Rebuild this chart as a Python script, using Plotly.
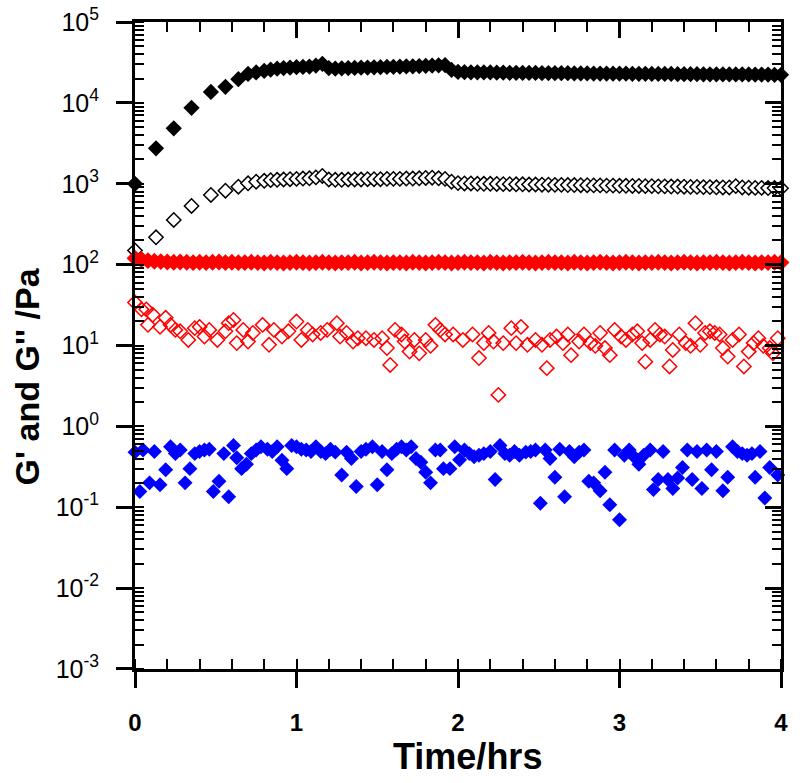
import plotly.graph_objects as go

# ---------------- data ----------------
# black series (G' filled, G'' open)
t_black = [0, 0.13, 0.24, 0.35, 0.47, 0.56, 0.64, 0.70, 0.75,
           0.80, 0.84, 0.88, 0.92, 0.96, 1.00, 1.04, 1.08, 1.12, 1.16, 1.20, 1.24, 1.28, 1.32, 1.36,
           1.40, 1.44, 1.48, 1.52, 1.56, 1.60, 1.64, 1.68, 1.72, 1.76, 1.80, 1.84, 1.88, 1.92, 1.96,
           2.00, 2.04, 2.08, 2.12, 2.16, 2.20, 2.24, 2.28, 2.32, 2.36, 2.40, 2.44, 2.48, 2.52, 2.56,
           2.60, 2.64, 2.68, 2.72, 2.76, 2.80, 2.84, 2.88, 2.92, 2.96, 3.00, 3.04, 3.08, 3.12, 3.16,
           3.20, 3.24, 3.28, 3.32, 3.36, 3.40, 3.44, 3.48, 3.52, 3.56, 3.60, 3.64, 3.68, 3.72, 3.76,
           3.80, 3.84, 3.88, 3.92, 3.96, 4.00]
gp_black = [1000, 2750, 4850, 8700, 13700, 15800, 19700, 22800, 23800,
            25000, 25800, 26500, 27000, 27400, 27700, 27900, 28200, 29000, 30500, 27000, 26600, 26800, 27000, 27100,
            27300, 27400, 27600, 27700, 27900, 28000, 28100, 28300, 28400, 28600, 28800, 29000, 29200, 29400, 25600,
            24200, 24000, 23900, 23900, 23800, 23800, 23700, 23700, 23600, 23600, 23500, 23500, 23500, 23400, 23400,
            23300, 23300, 23300, 23200, 23200, 23200, 23100, 23100, 23100, 23000, 23000, 23000, 22900, 22900, 22900,
            22800, 22800, 22800, 22800, 22700, 22700, 22700, 22700, 22600, 22600, 22600, 22600, 22500, 22500, 22500,
            22500, 22400, 22400, 22400, 22300, 22300]
gpp_black = [150, 218, 357, 532, 728, 822, 920, 1014, 1060,
             1090, 1110, 1120, 1130, 1140, 1150, 1160, 1170, 1200, 1250, 1130, 1120, 1120, 1130, 1130,
             1130, 1140, 1140, 1140, 1150, 1150, 1150, 1160, 1160, 1170, 1180, 1190, 1170, 1150, 1060,
             1020, 1010, 1010, 1000, 1000, 1000, 995, 990, 990, 985, 985, 980, 980, 975, 975,
             970, 970, 965, 965, 960, 960, 955, 955, 950, 950, 945, 945, 940, 940, 935,
             935, 930, 930, 925, 925, 920, 915, 915, 910, 910, 905, 900, 900, 935, 900,
             895, 890, 890, 885, 885, 880]

# red filled series
t_red = [0.00, 0.04, 0.08, 0.12, 0.16, 0.20, 0.24, 0.28, 0.32, 0.36, 0.40, 0.44, 0.48, 0.52, 0.56,
         0.60, 0.64, 0.68, 0.72, 0.76, 0.80, 0.84, 0.88, 0.92, 0.96, 1.00, 1.04, 1.08, 1.12, 1.16,
         1.20, 1.24, 1.28, 1.32, 1.36, 1.40, 1.44, 1.48, 1.52, 1.56, 1.60, 1.64, 1.68, 1.72, 1.76,
         1.80, 1.84, 1.88, 1.92, 1.96, 2.00, 2.04, 2.08, 2.12, 2.16, 2.20, 2.24, 2.28, 2.32, 2.36,
         2.40, 2.44, 2.48, 2.52, 2.56, 2.60, 2.64, 2.68, 2.72, 2.76, 2.80, 2.84, 2.88, 2.92, 2.96,
         3.00, 3.04, 3.08, 3.12, 3.16, 3.20, 3.24, 3.28, 3.32, 3.36, 3.40, 3.44, 3.48, 3.52, 3.56,
         3.60, 3.64, 3.68, 3.72, 3.76, 3.80, 3.84, 3.88, 3.92, 3.96, 4.00]
gp_red = [120, 116, 112, 110, 109, 108, 107, 108, 107, 106, 107, 106, 107, 108, 106,
          107, 106, 106, 107, 106, 105, 107, 106, 105, 106, 107, 106, 105, 106, 107,
          106, 105, 106, 106, 107, 105, 106, 107, 106, 105, 106, 106, 105, 107, 106,
          105, 106, 107, 106, 105, 106, 107, 106, 106, 105, 107, 106, 105, 106, 106,
          107, 106, 105, 106, 107, 106, 106, 105, 107, 106, 105, 106, 107, 106, 105,
          106, 107, 106, 105, 106, 106, 107, 106, 105, 106, 107, 106, 105, 106, 106,
          107, 106, 105, 106, 107, 106, 105, 106, 106, 107, 106]

# red open series
t_red_open = [0.0, 0.04, 0.07, 0.08, 0.11, 0.155, 0.19, 0.22, 0.25, 0.28,
              0.33, 0.37, 0.40, 0.43, 0.46, 0.51, 0.56, 0.58, 0.61, 0.63,
              0.67, 0.70, 0.73, 0.79, 0.83, 0.86, 0.91, 0.95, 1.0, 1.03,
              1.07, 1.10, 1.15, 1.19, 1.25, 1.27, 1.31, 1.35, 1.38, 1.43,
              1.48, 1.53, 1.56, 1.58, 1.61, 1.65, 1.67, 1.70, 1.73, 1.76,
              1.80, 1.83, 1.86, 1.89, 1.92, 1.97, 2.03, 2.09, 2.13, 2.16,
              2.19, 2.22, 2.25, 2.28, 2.33, 2.36, 2.39, 2.43, 2.48, 2.52,
              2.55, 2.57, 2.61, 2.65, 2.68, 2.70, 2.75, 2.78, 2.82, 2.85,
              2.88, 2.91, 2.94, 2.97, 3.01, 3.04, 3.08, 3.11, 3.14, 3.16,
              3.19, 3.22, 3.25, 3.28, 3.31, 3.33, 3.37, 3.41, 3.44, 3.47,
              3.50, 3.53, 3.56, 3.59, 3.62, 3.64, 3.67, 3.70, 3.74, 3.77,
              3.80, 3.83, 3.86, 3.89, 3.93, 3.95, 3.98]
gpp_red = [34, 28, 28, 18, 24, 17, 22, 18, 15.6, 15,
           11.7, 16.4, 17, 12.9, 15.6, 11.7, 15, 18.9, 20.7, 10.7,
           15.6, 11.2, 14.3, 18, 10.2, 15.6, 12.9, 15, 19.8, 11.7,
           15.6, 13.7, 14.3, 15.6, 18.9, 12.9, 14.3, 11.2, 12.3, 12.3,
           11.7, 12.3, 9.3, 5.75, 15.6, 13.7, 11.2, 8.4, 11.7, 8.0,
           11.7, 9.9, 18, 15.6, 13.7, 13.7, 11.7, 13.7, 7.0, 10.7,
           14.3, 11.2, 2.45, 10.7, 16.4, 10.7, 17, 10.2, 11.7, 10.2,
           5.25, 11.7, 12.9, 10.7, 13.7, 7.6, 11.2, 13.7, 10.7, 9.9,
           14.3, 9.3, 7.6, 15.6, 12.9, 11.7, 13.7, 15, 10.7, 6.3,
           11.7, 15.6, 13.7, 12.9, 5.5, 8.8, 13.7, 10.7, 9.9, 18.9,
           10.2, 14.3, 15, 14.3, 13.7, 9.3, 7.3, 11.7, 13.7, 5.5,
           8.4, 10.7, 12.3, 9.9, 9.3, 8.0, 12.3]

# blue filled series
t_blue = [0, 0.03, 0.05, 0.09, 0.12, 0.155, 0.19, 0.22, 0.25, 0.28,
          0.31, 0.34, 0.37, 0.40, 0.43, 0.46, 0.485, 0.52, 0.55, 0.58,
          0.61, 0.63, 0.66, 0.69, 0.72, 0.75, 0.78, 0.82, 0.85, 0.88,
          0.91, 0.94, 0.97, 1.0, 1.03, 1.06, 1.09, 1.12, 1.15, 1.18,
          1.21, 1.24, 1.28, 1.31, 1.34, 1.37, 1.40, 1.43, 1.47, 1.50,
          1.53, 1.56, 1.59, 1.62, 1.65, 1.68, 1.71, 1.74, 1.77, 1.80,
          1.83, 1.86, 1.89, 1.91, 1.95, 1.98, 2.01, 2.04, 2.07, 2.10,
          2.13, 2.16, 2.20, 2.23, 2.26, 2.29, 2.32, 2.35, 2.38, 2.42,
          2.45, 2.48, 2.51, 2.54, 2.57, 2.60, 2.63, 2.66, 2.69, 2.72,
          2.75, 2.78, 2.81, 2.84, 2.88, 2.91, 2.94, 2.97, 3.00, 3.03,
          3.06, 3.09, 3.12, 3.15, 3.19, 3.21, 3.24, 3.27, 3.30, 3.33,
          3.36, 3.39, 3.42, 3.45, 3.48, 3.51, 3.54, 3.57, 3.60, 3.64,
          3.67, 3.70, 3.73, 3.76, 3.79, 3.82, 3.84, 3.87, 3.90, 3.93,
          3.98]
g_blue = [0.48, 0.156, 0.51, 0.2, 0.49, 0.19, 0.29, 0.56, 0.46, 0.51,
          0.2, 0.30, 0.46, 0.49, 0.51, 0.52, 0.156, 0.21, 0.46, 0.135,
          0.58, 0.41, 0.30, 0.34, 0.46, 0.51, 0.56, 0.52, 0.49, 0.56,
          0.38, 0.30, 0.58, 0.56, 0.52, 0.51, 0.49, 0.56, 0.49, 0.46,
          0.52, 0.48, 0.25, 0.48, 0.40, 0.18, 0.49, 0.52, 0.56, 0.19,
          0.49, 0.29, 0.46, 0.52, 0.56, 0.51, 0.56, 0.40, 0.36, 0.27,
          0.2, 0.51, 0.51, 0.30, 0.30, 0.56, 0.385, 0.51, 0.46, 0.42,
          0.44, 0.46, 0.49, 0.22, 0.58, 0.46, 0.44, 0.49, 0.44, 0.48,
          0.49, 0.51, 0.112, 0.51, 0.40, 0.235, 0.52, 0.135, 0.49, 0.42,
          0.48, 0.51, 0.21, 0.20, 0.16, 0.27, 0.107, 0.51, 0.07, 0.44,
          0.51, 0.42, 0.34, 0.44, 0.51, 0.165, 0.22, 0.49, 0.22, 0.17,
          0.23, 0.31, 0.51, 0.22, 0.49, 0.17, 0.51, 0.29, 0.49, 0.16,
          0.235, 0.56, 0.49, 0.46, 0.44, 0.46, 0.235, 0.49, 0.13, 0.31,
          0.25]

x_ticks = [0, 1, 2, 3, 4]
x_range = [0, 4]
y_log_range = [-3.001, 5.001]
y_tickvals = [0.001, 0.01, 0.1, 1, 10, 100, 1000, 10000, 100000]
y_ticktext = ["10<sup>-3</sup>", "10<sup>-2</sup>", "10<sup>-1</sup>", "10<sup>0</sup>",
              "10<sup>1</sup>", "10<sup>2</sup>", "10<sup>3</sup>", "10<sup>4</sup>",
              "10<sup>5</sup>"]
x_title = "<b>Time/hrs</b>"
y_title = "<b>G' and G'' /Pa</b>"

FONT = "Arial, 'Liberation Sans', sans-serif"

# ---------------- figure ----------------
fig = go.Figure()

fig.add_trace(go.Scatter(x=t_black, y=gp_black, mode="markers", cliponaxis=False,
                         marker=dict(symbol="diamond", size=12.5, color="black", line=dict(width=0))))
fig.add_trace(go.Scatter(x=t_black, y=gpp_black, mode="markers", cliponaxis=False,
                         marker=dict(symbol="diamond", size=11, color="white",
                                     line=dict(width=1.5, color="black"))))
fig.add_trace(go.Scatter(x=t_red, y=gp_red, mode="markers", cliponaxis=False,
                         marker=dict(symbol="diamond", size=13, color="#ff0000", line=dict(width=0))))
fig.add_trace(go.Scatter(x=t_red_open, y=gpp_red, mode="markers", cliponaxis=False,
                         marker=dict(symbol="diamond-open", size=11, color="#ff0000",
                                     line=dict(width=1.5))))
fig.add_trace(go.Scatter(x=t_blue, y=g_blue, mode="markers", cliponaxis=False,
                         marker=dict(symbol="diamond", size=11.5, color="#0000ff", line=dict(width=0))))
# dummy trace so that the mirrored (top / right) axes are drawn
fig.add_trace(go.Scatter(x=[2], y=[1], xaxis="x2", yaxis="y2", mode="markers",
                         marker=dict(opacity=0), hoverinfo="skip"))

common_x = dict(range=x_range, showgrid=False, zeroline=False, showline=True, automargin=False,
                linecolor="black", linewidth=3, tickcolor="black", tickwidth=3, ticklen=16,
                tickvals=x_ticks, ticklabeloverflow="allow")
common_y = dict(type="log", range=y_log_range, showgrid=False, zeroline=False, automargin=False,
                showline=True, linecolor="black", linewidth=3, tickcolor="black",
                tickwidth=3, ticklen=16, tickvals=y_tickvals, ticktext=y_ticktext,
                ticklabeloverflow="allow")

fig.update_layout(
    width=800, height=783,
    margin=dict(l=135, r=19, t=22, b=114),
    paper_bgcolor="white", plot_bgcolor="white",
    showlegend=False,
    font=dict(family=FONT, color="black"),
    xaxis=dict(**common_x, ticks="outside",
               minor=dict(ticks="inside", dtick=0.2, ticklen=10, tickwidth=2, tickcolor="black"),
               tickfont=dict(size=24, family=FONT, weight="bold"),
               ticklabelstandoff=14),
    xaxis2=dict(**common_x, ticks="inside", overlaying="x", side="top", anchor="y2",
                showticklabels=False,
                minor=dict(ticks="inside", dtick=0.2, ticklen=10, tickwidth=2, tickcolor="black")),
    yaxis=dict(**common_y, ticks="outside",
               minor=dict(ticks="inside", dtick="D1", ticklen=9, tickwidth=2, tickcolor="black"),
               tickfont=dict(size=25, family=FONT),
               ticklabelstandoff=12),
    yaxis2=dict(**common_y, ticks="inside", overlaying="y", side="right", anchor="x2",
                showticklabels=False,
                minor=dict(ticks="inside", dtick="D1", ticklen=9, tickwidth=2, tickcolor="black")),
    annotations=[
        dict(text=x_title, xref="paper", yref="paper", x=0.514, y=-0.136,
             xanchor="center", yanchor="middle", showarrow=False,
             font=dict(size=36, family=FONT, color="black")),
        dict(text=y_title, xref="paper", yref="paper", x=-0.168, y=0.453,
             xanchor="center", yanchor="middle", showarrow=False, textangle=-90,
             font=dict(size=34, family=FONT, color="black")),
    ],
)

# remove the browser's default 8 px page margin so the figure fills the window
fig.write_html("out.html",
               config={"displayModeBar": False},
               post_script="document.body.style.margin='0px';document.body.style.overflow='hidden';")
